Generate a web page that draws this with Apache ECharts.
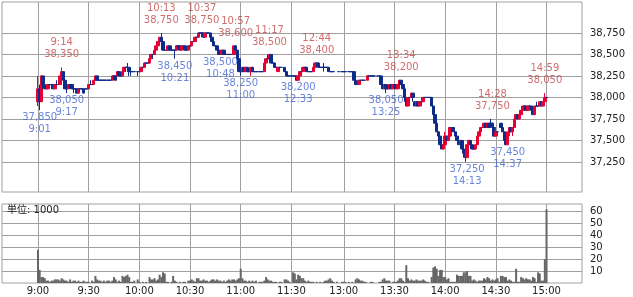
<!DOCTYPE html>
<html><head><meta charset="utf-8">
<script src="https://cdn.jsdelivr.net/npm/echarts@6/dist/echarts.min.js"></script>
<style>html,body{margin:0;padding:0;background:#fff}#c{width:633px;height:297px}</style>
</head><body><div id="c"></div>
<script>
// x-axis tick labels (minute categories: 9:00-11:30, 12:30-15:00)
const timeTickLabels = ['9:00','9:30','10:00','10:30','11:00','11:30','13:00','13:30','14:00','14:30','15:00'];
const priceTicks = [37250,37500,37750,38000,38250,38500,38750];
const volumeTicks = [10,20,30,40,50,60];

// per-minute candles [open, close, low, high], morning 9:00..11:30
const amCandles = [
[37950,38100,37900,38250],[38100,37950,37850,38150],[37950,38250,37950,38250],[38250,38150,38100,38250],[38150,38100,38100,38150],
[38100,38100,38100,38100],[38100,38150,38100,38150],[38150,38150,38150,38150],[38150,38150,38150,38150],[38150,38100,38100,38150],
[38100,38150,38100,38150],[38150,38150,38150,38200],[38150,38150,38150,38150],[38150,38250,38150,38250],[38250,38300,38250,38350],
[38300,38200,38200,38300],[38200,38100,38100,38200],[38100,38100,38050,38150],[38100,38150,38100,38150],[38150,38150,38100,38150],
[38150,38100,38100,38150],[38100,38100,38050,38100],[38100,38100,38100,38100],[38100,38050,38050,38100],[38050,38100,38050,38100],
[38100,38100,38100,38100],[38100,38100,38100,38100],[38100,38050,38050,38100],[38100,38100,38100,38100],[38100,38100,38100,38100],
[38100,38150,38100,38150],[38150,38150,38150,38200],[38150,38150,38150,38150],[38150,38200,38150,38200],[38200,38250,38200,38250],
[38250,38200,38200,38250],[38200,38200,38200,38200],[38200,38200,38200,38200],[38200,38200,38200,38200],[38200,38200,38200,38200],
[38200,38200,38200,38200],[38200,38200,38200,38200],[38200,38200,38200,38200],[38200,38200,38200,38200],[38200,38250,38200,38250],
[38250,38250,38200,38250],[38250,38200,38200,38250],[38250,38300,38250,38300],[38300,38250,38250,38300],[38250,38250,38250,38250],
[38250,38300,38250,38300],[38300,38350,38300,38350],[38350,38350,38300,38350],[38350,38350,38350,38400],[38350,38300,38250,38350],
[38300,38300,38250,38300],[38300,38300,38300,38300],[38300,38300,38300,38300],null,[38300,38300,38250,38300],
[38300,38300,38300,38300],[38300,38350,38300,38350],[38350,38350,38350,38350],[38350,38400,38350,38400],[38400,38400,38400,38400],
[38400,38400,38400,38400],[38400,38450,38400,38450],[38450,38500,38400,38500],[38500,38500,38450,38500],[38500,38550,38500,38550],
[38550,38600,38550,38600],[38600,38650,38600,38650],[38650,38700,38650,38700],[38700,38650,38650,38750],[38650,38550,38550,38650],
[38550,38550,38550,38600],[38550,38550,38550,38550],[38550,38600,38550,38600],[38600,38550,38550,38600],[38550,38550,38550,38550],
[38550,38550,38550,38550],[38550,38550,38450,38550],[38550,38600,38550,38600],[38600,38600,38600,38600],[38600,38550,38550,38600],
[38550,38600,38550,38600],[38600,38600,38600,38600],[38600,38550,38550,38600],[38550,38550,38550,38550],[38550,38600,38550,38600],
[38600,38600,38600,38600],[38600,38650,38600,38650],[38650,38650,38650,38650],[38650,38700,38650,38700],[38700,38700,38700,38700],
[38700,38750,38700,38750],[38750,38750,38750,38750],[38750,38750,38700,38750],[38750,38700,38700,38750],[38700,38750,38700,38750],
[38750,38750,38750,38750],[38750,38750,38750,38750],[38750,38700,38700,38750],[38700,38650,38650,38700],[38650,38600,38600,38650],
[38600,38600,38600,38600],[38600,38550,38550,38600],[38550,38500,38500,38550],[38500,38500,38500,38500],[38500,38550,38500,38550],
[38550,38500,38500,38550],[38500,38500,38500,38500],[38500,38500,38500,38500],[38500,38500,38500,38500],[38500,38500,38500,38500],
[38500,38500,38500,38500],[38500,38600,38500,38600],[38600,38550,38550,38600],[38550,38450,38450,38550],[38450,38300,38300,38450],
[38300,38300,38250,38350],[38300,38350,38300,38350],[38350,38300,38300,38350],[38300,38350,38300,38350],[38350,38300,38300,38350],
[38300,38300,38300,38300],[38300,38350,38250,38350],[38350,38300,38300,38350],[38300,38300,38300,38300],[38300,38300,38300,38300],
[38300,38300,38300,38300],[38300,38300,38300,38300],[38300,38300,38300,38300],[38300,38300,38300,38300],[38300,38400,38300,38400],
[38400,38450,38400,38450],[38450,38450,38450,38500],[38450,38500,38450,38500],[38500,38400,38400,38500],[38400,38400,38400,38400],
[38400,38350,38350,38400],[38350,38350,38350,38350],[38300,38350,38300,38350],[38350,38350,38350,38350],[38350,38350,38350,38350],
null,[38350,38300,38300,38350],[38300,38250,38250,38300],[38250,38250,38250,38250],[38250,38250,38250,38250],
[38250,38250,38250,38250]
];
// afternoon 12:30..15:00
const pmCandles = [
[38250,38250,38250,38250],[38250,38250,38250,38250],[38250,38200,38200,38250],[38200,38250,38200,38250],[38250,38300,38250,38300],
[38300,38300,38300,38300],[38300,38350,38300,38350],[38350,38350,38350,38350],[38350,38300,38300,38350],[38300,38300,38300,38300],
[38300,38300,38300,38300],[38300,38300,38300,38300],[38300,38350,38300,38350],[38350,38400,38350,38400],[38400,38400,38350,38400],
[38400,38350,38350,38400],[38350,38350,38350,38350],[38350,38350,38350,38350],[38350,38350,38300,38400],[38350,38350,38350,38350],
[38350,38350,38350,38350],[38350,38300,38300,38350],[38300,38300,38300,38300],[38300,38300,38300,38300],[38300,38300,38300,38300],
null,null,[38300,38300,38300,38300],null,[38300,38300,38300,38300],
[38300,38300,38300,38300],[38300,38300,38300,38300],null,[38300,38300,38300,38300],[38300,38300,38300,38300],
[38300,38300,38300,38300],[38300,38200,38200,38300],[38200,38150,38150,38200],[38150,38150,38150,38150],[38150,38200,38150,38200],
[38200,38200,38200,38200],[38200,38200,38200,38200],[38200,38200,38200,38200],null,[38200,38250,38200,38250],
[38250,38250,38250,38250],[38250,38250,38250,38250],[38250,38250,38250,38250],[38250,38250,38250,38250],null,
[38250,38250,38250,38250],[38250,38250,38250,38250],[38250,38150,38150,38250],[38150,38100,38100,38150],[38100,38150,38100,38150],
[38150,38100,38050,38150],[38100,38100,38100,38100],[38100,38150,38100,38150],[38150,38100,38100,38150],[38100,38150,38100,38150],
[38150,38150,38150,38150],[38150,38100,38100,38150],[38100,38150,38100,38150],[38150,38200,38150,38200],[38200,38150,38150,38200],
[38150,38100,38100,38150],[38100,38000,37950,38100],[38000,37900,37900,38000],[37900,38000,37900,38000],[38000,38000,38000,38000],
[38000,38050,38000,38050],[38050,38000,37950,38050],[37950,37900,37900,37950],[37900,37950,37900,37950],[37950,37900,37900,37950],
[37900,37950,37900,37950],[37950,37950,37950,37950],[37950,38000,37950,38000],[38000,38000,38000,38000],[38000,38000,38000,38000],
[38000,38000,38000,38000],[38000,38000,38000,38000],[38000,37900,37900,38000],[37900,37800,37800,37900],[37800,37700,37700,37800],
[37700,37600,37600,37700],[37600,37550,37500,37600],[37550,37450,37450,37550],[37450,37400,37400,37450],[37400,37450,37400,37450],
[37450,37550,37400,37600],[37550,37500,37500,37550],[37500,37550,37500,37550],[37550,37650,37550,37650],[37650,37650,37600,37650],
[37650,37600,37600,37650],[37600,37550,37550,37600],[37550,37500,37500,37550],[37500,37450,37450,37500],[37450,37500,37450,37500],
[37500,37400,37400,37500],[37400,37350,37300,37400],[37350,37300,37250,37350],[37300,37450,37300,37450],[37450,37500,37400,37500],
[37500,37450,37400,37500],[37450,37400,37400,37450],[37400,37400,37400,37400],[37400,37450,37400,37450],[37450,37550,37450,37550],
[37550,37600,37550,37600],[37600,37650,37600,37650],[37650,37650,37650,37650],[37650,37700,37650,37700],[37700,37650,37650,37700],
[37650,37700,37650,37700],[37700,37650,37650,37700],[37700,37700,37650,37750],[37700,37650,37650,37700],[37650,37550,37550,37650],
[37550,37600,37550,37650],[37600,37600,37600,37600],null,[37700,37650,37650,37700],[37650,37600,37600,37650],
[37600,37500,37500,37600],[37500,37450,37450,37500],[37450,37600,37450,37600],[37600,37650,37550,37650],[37650,37600,37600,37650],
[37600,37650,37550,37650],[37650,37750,37650,37750],[37750,37800,37700,37800],[37800,37750,37750,37800],[37750,37800,37750,37800],
[37800,37850,37800,37850],[37850,37900,37850,37900],[37900,37900,37850,37900],[37900,37850,37850,37900],[37850,37900,37850,37900],
[37900,37900,37900,37900],[37900,37850,37850,37900],[37850,37800,37800,37850],[37800,37900,37800,37900],[37900,37900,37900,37950],
[37900,37900,37900,37900],[37900,37950,37900,37950],[37950,37900,37900,37950],[37900,37950,37900,37950],[37950,38000,37900,38050],
[38000,38000,38000,38000]
];

// per-minute volume (unit: 1000)
const amVolume = [
28,11,5,5,4,2,2,1,2,2, 3,3,3,2,4,3,2,2,1,3, 1,2,2,1,2,1,1,2,1,1, 1,0,2,1,6,3,2,2,1,2,
1,2,2,1,2,5,3,1,2,1, 6,5,6,7,5,1,1,2,0,3, 1,0,1,0,1,0,5,3,3,4, 2,3,7,5,9,8,1,1,0,1,
6,2,1,0,1,0,1,1,0,2, 2,3,2,1,4,4,2,2,3,2, 2,1,2,3,3,2,3,2,2,1, 2,1,2,3,2,3,3,2,3,4,
12,4,2,2,1,2,1,2,1,2, 0,1,1,1,2,5,3,2,2,1, 1,1,0,1,1,0,3,3,2,1, 0
];
const pmVolume = [
9,8,3,7,6,4,4,2,1,2, 1,1,1,0,1,0,1,0,1,2, 2,3,4,2,1,0,1,0,0,1, 1,1,0,1,0,1,0,3,4,3,
2,2,1,1,0,0,1,1,0,0, 0,1,1,3,4,2,2,2,0,1, 1,1,2,4,4,2,1,15,4,2, 3,2,2,3,2,2,2,3,2,1,
1,0,5,13,14,12,6,11,11,5, 5,3,4,1,1,1,1,7,6,6, 6,9,9,10,6,6,2,3,2,1, 2,2,2,4,3,5,4,2,3,2,
3,4,1,6,6,5,5,2,3,2, 1,1,12,1,1,5,4,3,4,3, 3,2,5,4,1,9,8,2,2,20, 62
];

// annotated swing highs / lows [time, price]
const highMarks = [['9:14',38350],['10:13',38750],['10:37',38750],['10:57',38600],['11:17',38500],['12:44',38400],['13:34',38200],['14:28',37750],['14:59',38050]];
const lowMarks = [['9:01',37850],['9:17',38050],['10:21',38450],['10:48',38500],['11:00',38250],['12:33',38200],['13:25',38050],['14:13',37250],['14:37',37450]];

function minuteIndex(t){const p=t.split(':').map(Number);const mins=p[0]*60+p[1];return mins<=690?mins-540:mins-750+151;}
const fmt = v => Number(v).toLocaleString('en-US');
const tickIdx = timeTickLabels.map(minuteIndex);

const allCandles = amCandles.concat(pmCandles);
const candleData = [];
allCandles.forEach((c,i)=>{ if(c) candleData.push([i,c[0],c[1],c[2],c[3]]); });
const volData = amVolume.concat(pmVolume).map((v,i)=>[i,v]);

const FONT = 'DejaVu Sans';
const UP = '#e60033', DOWN = '#0f2b88';
const GRIDC = '#a0a0a0';

function xAxisCfg(gi, showLabel){
  return {type:'value', gridIndex:gi, min:-21.3, max:322,
    axisLine:{show:false}, axisTick:{show:false, customValues:tickIdx},
    splitLine:{show:true, lineStyle:{color:GRIDC, width:1}},
    axisLabel:{show:showLabel, customValues:tickIdx, margin:3, fontSize:10, fontFamily:FONT, color:'#222',
      formatter: v => timeTickLabels[tickIdx.indexOf(v)] || ''}};
}

const chart = echarts.init(document.getElementById('c'), null, {renderer:'canvas'});
chart.setOption({
  animation:false,
  backgroundColor:'#fff',
  grid:[
    {left:2, top:2, width:580, height:190, show:true, borderColor:GRIDC, borderWidth:1, backgroundColor:'#fff'},
    {left:2, top:204, width:580, height:79, show:true, borderColor:GRIDC, borderWidth:1, backgroundColor:'#fff'}
  ],
  xAxis:[xAxisCfg(0,false), xAxisCfg(1,true)],
  yAxis:[
    {type:'value', gridIndex:0, position:'right', min:36900, max:39110,
      axisLine:{show:false},
      axisTick:{show:true, length:5, customValues:priceTicks, lineStyle:{color:GRIDC}},
      splitLine:{show:true, lineStyle:{color:GRIDC, width:1}},
      axisLabel:{customValues:priceTicks, margin:8, fontSize:10, fontFamily:FONT, color:'#222', formatter:v=>fmt(v)}},
    {type:'value', gridIndex:1, position:'right', min:0, max:66.5,
      axisLine:{show:false},
      axisTick:{show:true, length:5, customValues:volumeTicks, lineStyle:{color:GRIDC}},
      splitLine:{show:true, lineStyle:{color:GRIDC, width:1}},
      axisLabel:{customValues:volumeTicks, margin:8, fontSize:10, fontFamily:FONT, color:'#222'}}
  ],
  graphic:[{type:'text', left:7, top:205, z:100,
    style:{text:'単位: 1000', font:'10px "DejaVu Sans", "Noto Sans CJK JP"', fill:'#222'}}],
  series:[
    {type:'candlestick', xAxisIndex:0, yAxisIndex:0, barWidth:3,
      dimensions:['x','open','close','lowest','highest'],
      encode:{x:'x', y:['open','close','lowest','highest']},
      data:candleData,
      itemStyle:{color:UP, color0:DOWN, borderColor:UP, borderColor0:DOWN, borderColorDoji:DOWN, borderWidth:1}},
    {type:'bar', xAxisIndex:1, yAxisIndex:1, barWidth:2, data:volData, itemStyle:{color:'#666'}},
    {type:'scatter', xAxisIndex:0, yAxisIndex:0, symbolSize:1, z:10,
      itemStyle:{color:'rgba(0,0,0,0)'},
      data:highMarks.map(h=>({name:h[0], value:[minuteIndex(h[0]), h[1]]})),
      label:{show:true, position:'top', distance:6, fontSize:10, lineHeight:12, fontFamily:FONT, color:'#c44848', align:'center',
        formatter:p=>p.data.name+'\n'+fmt(p.data.value[1])}},
    {type:'scatter', xAxisIndex:0, yAxisIndex:0, symbolSize:1, z:10,
      itemStyle:{color:'rgba(0,0,0,0)'},
      data:lowMarks.map(h=>({name:h[0], value:[minuteIndex(h[0]), h[1]]})),
      label:{show:true, position:'bottom', distance:1, fontSize:10, lineHeight:12, fontFamily:FONT, color:'#4466d4', align:'center',
        formatter:p=>fmt(p.data.value[1])+'\n'+p.data.name}}
  ]
});
</script></body></html>
